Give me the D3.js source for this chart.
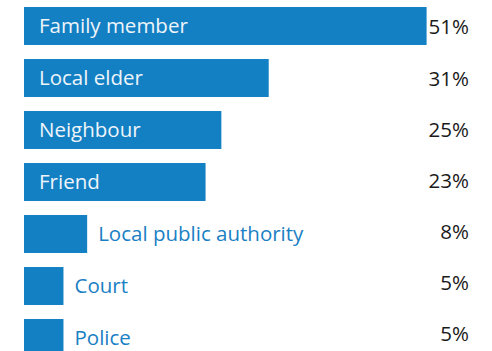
<!DOCTYPE html>
<html>
<head>
<meta charset="utf-8">
<script src="https://cdn.jsdelivr.net/npm/d3@7"></script>
<style>
  html, body { margin: 0; padding: 0; background: #fff; }
  svg { display: block; font-family: "Open Sans", sans-serif; }
</style>
</head>
<body>
<svg id="chart" width="492" height="351"></svg>
<script>
// Who people turn to (share of respondents, %)
const categories = ["Family member", "Local elder", "Neighbour", "Friend", "Local public authority", "Court", "Police"];
const values = [51, 31, 25, 23, 8, 5, 5];
const valueLabels = ["51%", "31%", "25%", "23%", "8%", "5%", "5%"];

const width = 492, height = 351;
const barColor = "#1380c3";
const fontSize = 20.5;

const svg = d3.select("#chart");

const x = d3.scaleLinear().domain([0, 51]).range([24, 426.6]);
const y = d3.scaleBand().domain(categories).range([0, 364]).paddingInner(0.27).paddingOuter(0.135);
// value column sits on its own evenly spaced rows
const yVal = d3.scalePoint().domain(categories).range([27, 334]);

const rows = categories.map((c, i) => ({ cat: c, value: values[i], label: valueLabels[i] }));

// label fits inside the bar when the bar is wide enough
const inside = d => x(d.value) - x(0) > 150;

const g = svg.append("g");

g.selectAll("rect.bar")
  .data(rows)
  .join("rect")
  .attr("class", "bar")
  .attr("x", x(0))
  .attr("y", d => y(d.cat))
  .attr("width", d => x(d.value) - x(0))
  .attr("height", y.bandwidth())
  .attr("fill", barColor);

g.selectAll("text.cat")
  .data(rows)
  .join("text")
  .attr("class", "cat")
  .attr("x", d => inside(d) ? x(0) + 15 : x(d.value) + 11)
  .attr("y", d => y(d.cat) + y.bandwidth() / 2)
  .attr("dy", "0.36em")
  .attr("font-size", fontSize)
  .attr("fill", d => inside(d) ? "#eef4fa" : "#1a80c4")
  .text(d => d.cat);

g.selectAll("text.val")
  .data(rows)
  .join("text")
  .attr("class", "val")
  .attr("x", 469)
  .attr("y", d => yVal(d.cat))
  .attr("dy", "0.36em")
  .attr("text-anchor", "end")
  .attr("font-size", fontSize)
  .attr("fill", "#1a1a1a")
  .text(d => d.label);
</script>
</body>
</html>
